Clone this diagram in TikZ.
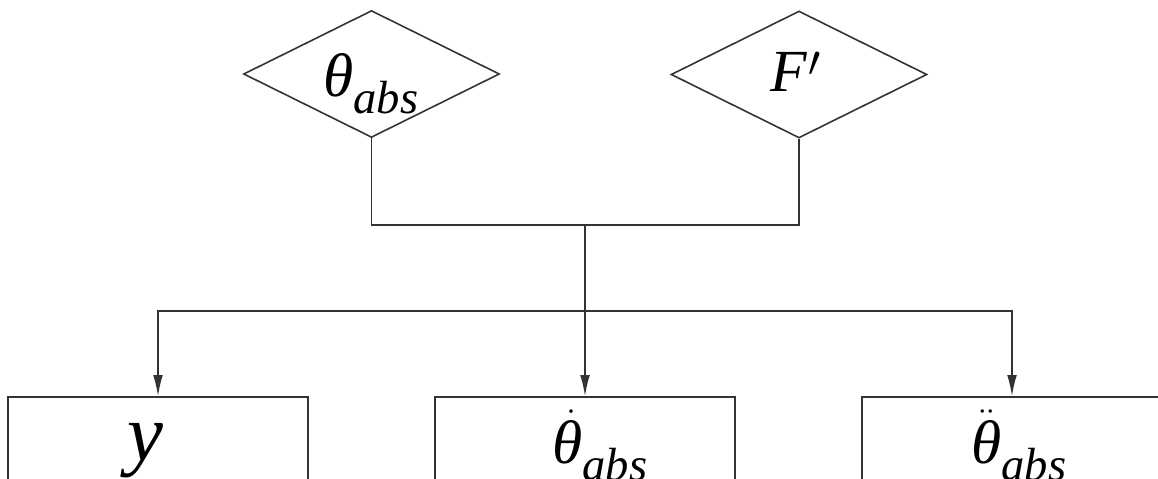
\documentclass[tikz,border=0pt]{standalone}
\usepackage{fontspec}
\setmainfont{Liberation Serif}
\usepackage{tikz}
\usetikzlibrary{shapes.geometric,arrows.meta}
\newcommand{\abssub}{\raisebox{-0.34cm}{\fontsize{26.5}{28}\selectfont\itshape abs}}
\tikzset{
  inbox/.style={diamond,draw=black!80,line width=0.9pt,aspect=2,inner sep=0pt,
                minimum width=5.12cm,minimum height=2.54cm},
  outbox/.style={rectangle,draw=black!80,line width=0.9pt,inner sep=0pt,
                 minimum width=6cm,minimum height=2.6cm},
  tag/.style={inner sep=0pt,anchor=base west,font=\fontsize{35}{40}\selectfont\itshape},
  link/.style={draw=black!80,line width=0.9pt},
  feed/.style={link,-{Latex[length=12pt,width=5.5pt]}}}

\begin{document}
\begin{tikzpicture}[x=0.02cm,y=-0.02cm]
\useasboundingbox (0,0) rectangle (1158,479);
\clip (0,0) rectangle (1158,479);

% inputs
\node[inbox] (thabs)  at (371.5,74) {};
\node[inbox] (fprime) at (799,74.5) {};
\node[tag] (thabstag) at (323,97) {θ\abssub};
\node[tag,font=\fontsize{34}{38}\selectfont\itshape] (fprimetag) at (770,92) {F\kern1pt$'$};

% outputs
\node[outbox] (ybox)   at (158,462)  {};
\node[outbox] (thdbox) at (585,462)  {};
\node[outbox] (thdd)   at (1012,462) {};
\node[tag,font=\fontsize{46}{50}\selectfont\itshape] (ytag) at (127,460) {y};
\node[tag] (thdtag)  at (552,463) {$\skew{3}{\dot}{\hbox{θ}}$\abssub};
\node[tag] (thddtag) at (971,463) {$\ddot{\hbox{θ}}$\abssub};

\coordinate (topjn) at (585,225);
\coordinate (botjn) at (585,311);

\draw[link] (thabs.south) |- (topjn) -| (fprime.south);
\draw[link] (topjn) -- (botjn);
\draw[feed] (botjn) -| (ybox.north);
\draw[feed] (botjn) -- (thdbox.north);
\draw[feed] (botjn) -| (thdd.north);
\end{tikzpicture}
\end{document}
